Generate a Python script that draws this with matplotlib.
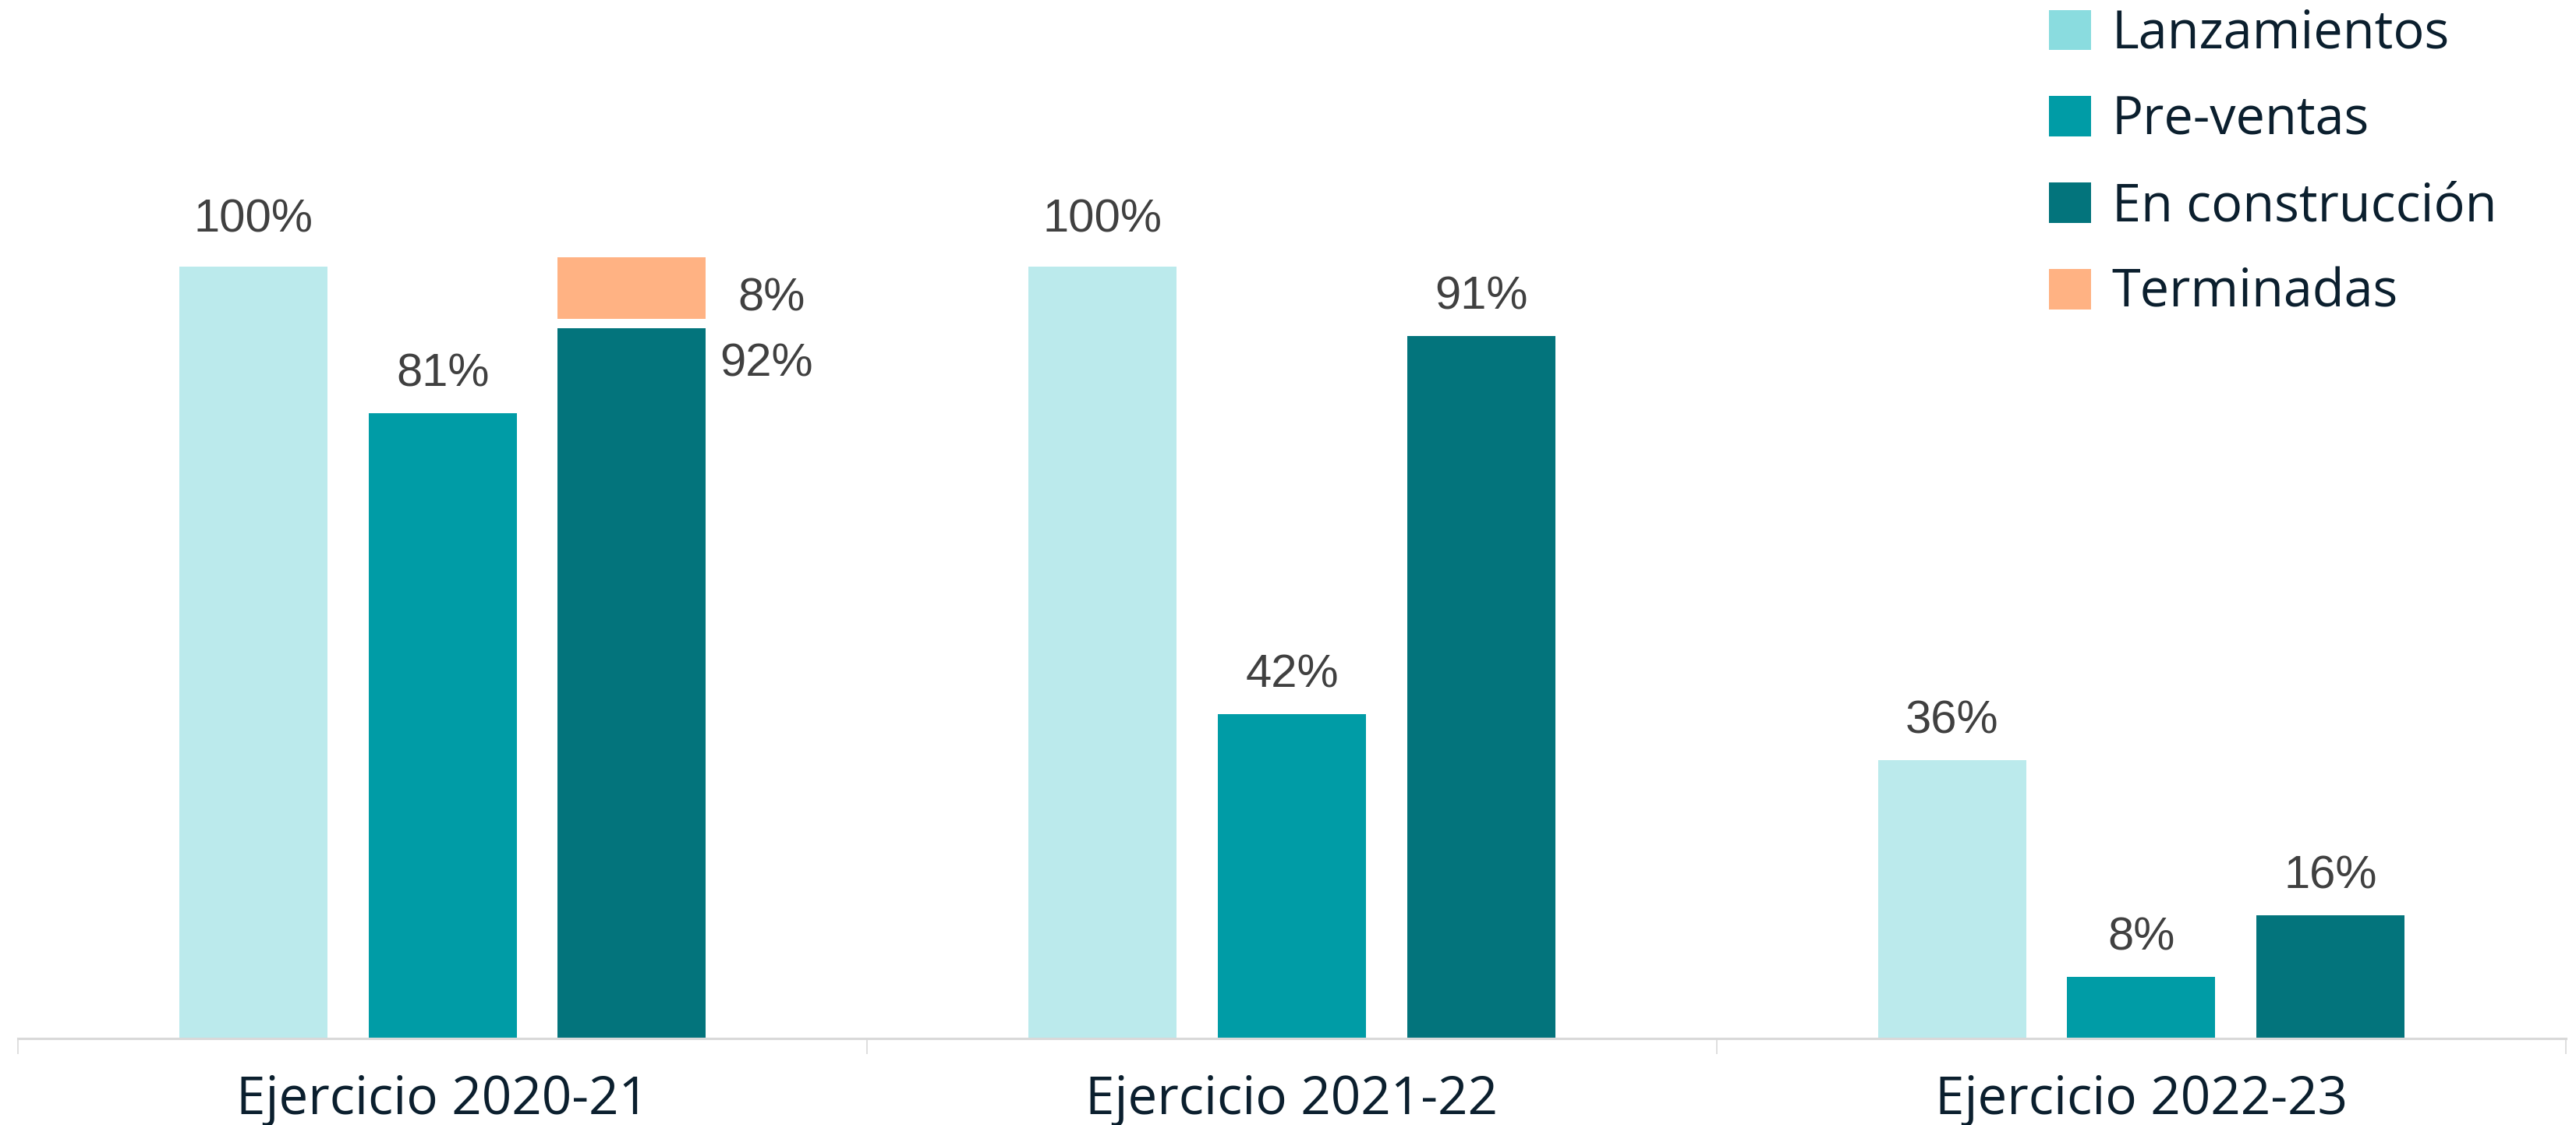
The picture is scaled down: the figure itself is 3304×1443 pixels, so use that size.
import matplotlib
matplotlib.use('Agg')
import matplotlib.pyplot as plt
from matplotlib.patches import Patch
import numpy as np

categories = ['Ejercicio 2020-21', 'Ejercicio 2021-22', 'Ejercicio 2022-23']
series_names = ['Lanzamientos', 'Pre-ventas', 'En construcción', 'Terminadas']
lanzamientos = [100, 100, 36]
preventas = [81, 42, 8]
construccion = [92, 91, 16]
terminadas = [8, 0, 0]

bar_colors = ['#BBEAEC', '#009CA6', '#03747C', '#FFB283']
legend_colors = ['#8ADCDF', '#009CA6', '#03747C', '#FFB283']
value_color = '#404040'
text_color = '#0B1F2E'
axis_color = '#D9D9D9'

W, H = 3304, 1443
DPI = 100
PX = 72 / DPI  # points per pixel

fig = plt.figure(figsize=(W / DPI, H / DPI), dpi=DPI)
ax = fig.add_axes([23 / W, 111 / H, 3268 / W, 1332 / H])

x = np.arange(len(categories))
bw = 0.1745
step = 0.2227
stack_gap = 1.2

value_font = dict(family=['Liberation Sans', 'DejaVu Sans'], size=43, color=value_color)
label_font = ['Open Sans', 'DejaVu Sans']
tick_size = 48.5
legend_size = 48
label_weight = 500

series = [lanzamientos, preventas, construccion]
for i, vals in enumerate(series):
    xs = x + (i - 1) * step
    ax.bar(xs, vals, width=bw, color=bar_colors[i], linewidth=0, zorder=2)
    for j, (xc, v) in enumerate(zip(xs, vals)):
        if i == 2 and terminadas[j] > 0:
            ax.annotate(f'{v}%', xy=(xc + bw / 2, v), xytext=(18 * PX, -46 * PX),
                        textcoords='offset points', ha='left', va='center', **value_font)
        else:
            off = 60 if v >= 100 else 50
            ax.annotate(f'{v}%', xy=(xc, v), xytext=(0, off * PX),
                        textcoords='offset points', ha='center', va='center', **value_font)

# Terminadas stacked on top of En construcción
xs_c = x + step
for j, (xc, base, t) in enumerate(zip(xs_c, construccion, terminadas)):
    if t > 0:
        ax.bar(xc, t, width=bw, bottom=base + stack_gap, color=bar_colors[3], linewidth=0, zorder=2)
        ax.annotate(f'{t}%', xy=(xc + bw / 2, base + stack_gap + t / 2), xytext=(84 * PX, -14 * PX),
                    textcoords='offset points', ha='center', va='center', **value_font)

ax.set_xlim(-0.5, len(categories) - 0.5)
ax.set_ylim(0, 134.5)

for s in ['top', 'right', 'left']:
    ax.spines[s].set_visible(False)
ax.spines['bottom'].set_color(axis_color)
ax.spines['bottom'].set_linewidth(2.2)
ax.set_yticks([])

ax.set_xticks(x)
ax.set_xticklabels(categories, fontfamily=label_font, fontsize=tick_size,
                   fontweight=label_weight, color=text_color)
ax.set_xticks(np.arange(-0.5, len(categories)), minor=True)
ax.tick_params(axis='x', which='major', length=0, pad=33)
ax.tick_params(axis='x', which='minor', length=20 * PX, width=1.2, color=axis_color)

handles = [Patch(facecolor=c, edgecolor='none') for c in legend_colors]
fig.legend(handles, series_names, loc='upper left', bbox_to_anchor=(2628 / W, 1 - 10 / H),
           frameon=False, prop={'family': label_font, 'size': legend_size, 'weight': label_weight},
           labelcolor=text_color, handlelength=0.81, handleheight=0.81,
           handletextpad=0.40, labelspacing=0.65, borderpad=0, borderaxespad=0)

fig.savefig('out.png', dpi=DPI, facecolor='white')
